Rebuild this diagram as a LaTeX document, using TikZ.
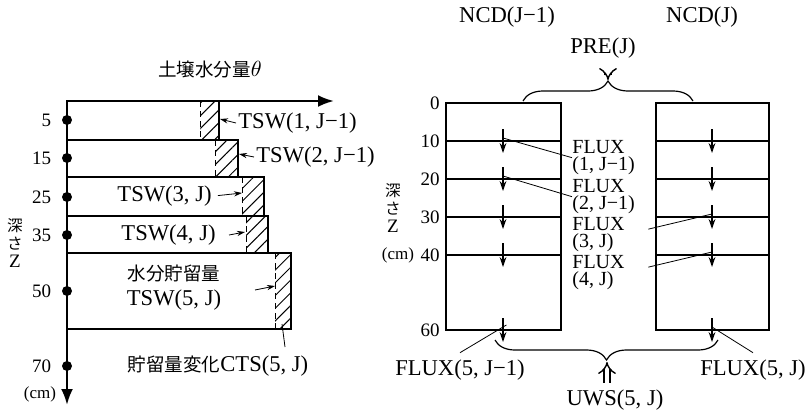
\documentclass[tikz,border=0pt]{standalone}
\usepackage{fontspec}
\setmainfont{Liberation Serif}
\newfontfamily\jp[Scale=0.82]{Noto Sans CJK JP}
\usepackage{tikz}
\usetikzlibrary{arrows.meta,patterns.meta,decorations.pathreplacing}

\begin{document}
\begin{tikzpicture}[x=0.5pt,y=-0.5pt,font=\fontsize{11.3}{13}\selectfont,
    layer/.style={draw,line width=0.75pt},
    hatch/.style={pattern={Lines[angle=45,distance=4.5pt,line width=0.5pt]}},
    dot/.style={circle,fill=black,inner sep=0pt,minimum size=5pt},
    tag/.style={inner sep=1pt},
    num/.style={inner sep=1pt,font=\fontsize{9.5}{11}\selectfont},
    unit/.style={inner sep=1pt,font=\fontsize{8.5}{10}\selectfont},
    side/.style={align=center,inner sep=0pt,font=\fontsize{9.5}{9}\selectfont},
    ptr/.style={line width=0.4pt,-{Stealth[length=4pt,width=2.6pt]}},
    leader/.style={line width=0.4pt},
    flow/.style={line width=0.7pt,-{Stealth[length=5pt,width=3.4pt]}},
    dbl/.style={double,double distance=2.4pt,line width=0.7pt,-{Implies[length=3.5pt]}},
    brc/.style={decorate,decoration={brace,amplitude=10pt},line width=0.6pt},
    stack/.style={align=left,inner sep=0pt,font=\fontsize{10}{8.6}\selectfont}]
\useasboundingbox (0,0) rectangle (808,418);

% left: storage per layer
\foreach \ya/\yb/\ha/\hb in {101/140/200/219,140/177/215/238,177/216/242/264,216/253/246/268,253/329/275/291}{
  \fill[hatch] (\ha,\ya) rectangle (\hb,\yb);
  \draw[layer] (67,\ya) rectangle (\hb,\yb);
  \draw[line width=0.5pt,dash pattern=on 3pt off 2pt] (\ha,\ya) -- (\ha,\yb);
}
\coordinate (o) at (67,101);
\coordinate (xe) at (334,101);
\coordinate (ye) at (67,405);
\draw[line width=1.2pt,-{Latex[length=8pt,width=6pt]}] (o) -- (xe);
\draw[line width=1.2pt,-{Latex[length=8pt,width=6pt]}] (o) -- (ye);
\node (theta) at (210,70) {{\jp 土壌水分量}$\theta$};
\foreach \d/\y in {5/120,15/158,25/197,35/235,50/291,70/366}
  \node[dot,label={[num,label distance=4pt]left:\d}] (z\d) at (67,\y) {};
\node[unit] (cmL) at (40,394) {(cm)};
\node[side] (depL) at (15,243) {\jp 深\\\jp さ\\Z};

% labels of the layers
\coordinate (h1) at (220,119);
\coordinate (h2) at (239,154);
\coordinate (h3) at (242,193);
\coordinate (h4) at (245,232);
\coordinate (h5) at (275,286);
\coordinate (s4) at (229,235);
\coordinate (s5) at (255,290);
\node[tag,anchor=west] (t1) at (236,123) {TSW(1, J−1)};
\node[tag,anchor=west] (t2) at (254,157) {TSW(2, J−1)};
\node[tag,anchor=east] (t3) at (214,196) {TSW(3, J)};
\node[tag,anchor=east] (t4) at (218,235) {TSW(4, J)};
\node[align=center,inner sep=1pt,font=\fontsize{11.3}{12.5}\selectfont] (t5) at (174,288) {{\jp 水分貯留量}\\TSW(5, J)};
\draw[ptr] (t1.west) -- (h1);
\draw[ptr] (t2.west) -- (h2);
\draw[ptr,shorten <=2pt] (t3.east) -- (h3);
\draw[ptr] (s4) -- (h4);
\draw[ptr] (s5) -- (h5);
\node (cts) at (218,366) {{\jp 貯留量変化}CTS(5, J)};
\coordinate (c1) at (285,347);
\coordinate (c2) at (282,324);
\draw[leader] (c1) -- (c2);

% right: two columns
\foreach \xa/\xb/\xm/\c in {446/561/503/a,656/769/712/b}{
  \draw[layer] (\xa,103) rectangle (\xb,330);
  \foreach \y in {141,179,217,255}
    \draw[layer] (\xa,\y) -- (\xb,\y);
  \foreach \y/\k in {141/1,179/2,217/3,255/4,330/5}{
    \draw[flow] (\xm,\y-12) -- (\xm,\y+12);
    \coordinate (\c\k) at (\xm,\y-3);
  }
}
\foreach \d/\y in {0/103,10/141,20/179,30/217,40/255,60/330}
  \node[num,anchor=east] (d\d) at (442,\y) {\d};
\node[unit] (cmR) at (398,255) {(cm)};
\node[side] (depR) at (393,208) {\jp 深\\\jp さ\\Z};

\node (ncdA) at (507,17) {NCD(J−1)};
\node (ncdB) at (702,17) {NCD(J)};
\node (pre) at (603,48) {PRE(J)};
\draw[brc] (523,101) -- (693,101);
\coordinate (pt) at (608,80);
\draw[dbl,shorten <=5pt] (pt |- pre.south) -- (pt);

\node[stack,anchor=north west] (f1) at (572,140) {FLUX\\(1, J−1)};
\node[stack,anchor=north west] (f2) at (572,179) {FLUX\\(2, J−1)};
\node[stack,anchor=north west] (f3) at (572,217) {FLUX\\(3, J)};
\node[stack,anchor=north west] (f4) at (572,255) {FLUX\\(4, J)};
\draw[leader] (f1.west) -- (a1);
\draw[leader] (f2.west) -- (a2);
\draw[leader,shorten <=12pt] (f3.east) -- (b3);
\draw[leader,shorten <=12pt] (f4.east) -- (b4);

\node (fa) at (460,370) {FLUX(5, J−1)};
\node (fb) at (753,370) {FLUX(5, J)};
\draw[leader,shorten >=-2pt] (fa.north) -- (a5);
\draw[leader] (fb.north) -- (b5);

\draw[brc] (718,340) -- (495,340);
\coordinate (pb) at (607,362);
\node (uws) at (615,400) {UWS(5, J)};
\draw[dbl] (pb |- uws.north) -- (pb);
\end{tikzpicture}
\end{document}
